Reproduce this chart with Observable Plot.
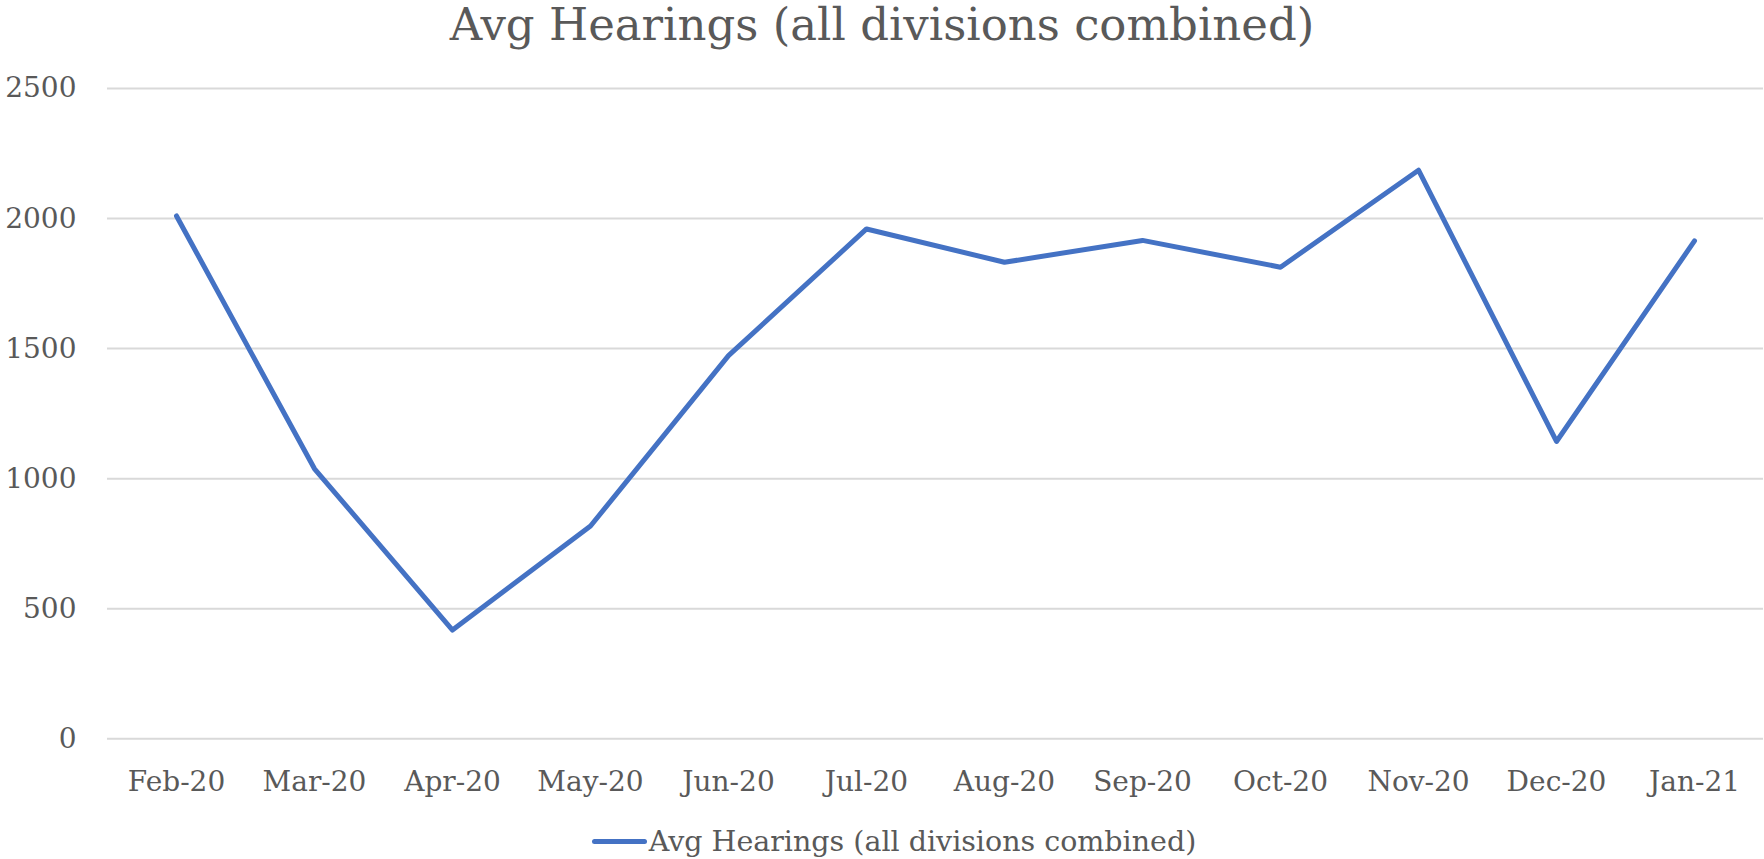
<!DOCTYPE html>
<html>
<head>
<meta charset="utf-8">
<script src="https://cdn.jsdelivr.net/npm/d3@7"></script>
<script src="https://cdn.jsdelivr.net/npm/@observablehq/plot@0.6"></script>
<style>
  html, body { margin: 0; padding: 0; background: #fff; }
  body { width: 1764px; font-family: "DejaVu Serif", serif; color: #595959; }
  #title { height: 50px; line-height: 50px; font-size: 45px; text-align: center; white-space: nowrap; }
  #legend { height: 49px; box-sizing: border-box; padding-top: 18px; padding-left: 24px; text-align: center; font-size: 28.5px; line-height: 1; white-space: nowrap; }
  #legend .sw { display: inline-block; width: 55px; height: 5px; border-radius: 3px; background: #4472C4; vertical-align: middle; margin-right: 2px; position: relative; top: -2px; }
</style>
</head>
<body>
<div id="title">Avg Hearings (all divisions combined)</div>
<div id="chart"></div>
<div id="legend"><span class="sw"></span>Avg Hearings (all divisions combined)</div>
<script>
const months = ["Feb-20", "Mar-20", "Apr-20", "May-20", "Jun-20", "Jul-20", "Aug-20", "Sep-20", "Oct-20", "Nov-20", "Dec-20", "Jan-21"];
const hearings = [2010, 1038, 418, 818, 1473, 1960, 1832, 1916, 1813, 2186, 1143, 1914];
const yTicks = [0, 500, 1000, 1500, 2000, 2500];

const data = months.map((m, i) => ({month: m, value: hearings[i]}));

const chart = Plot.plot({
  width: 1764,
  height: 760,
  marginTop: 38,
  marginBottom: 71.7,
  marginLeft: 107,
  marginRight: 1,
  style: {fontFamily: "DejaVu Serif, serif", color: "#595959", background: "#fff"},
  x: {type: "point", domain: months, padding: 0.5, label: null},
  y: {domain: [0, 2500], label: null},
  marks: [
    Plot.ruleY(yTicks, {stroke: "#d9d9d9", strokeWidth: 2}),
    Plot.axisY(yTicks, {tickSize: 0, tickPadding: 31, fontSize: 28, fill: "#595959", label: null, tickFormat: d => String(d)}),
    Plot.axisX({tickSize: 0, tickPadding: 32, fontSize: 28, fill: "#595959", label: null}),
    Plot.line(data, {x: "month", y: "value", stroke: "#4472C4", strokeWidth: 5, strokeLinejoin: "round", strokeLinecap: "round"})
  ]
});
document.getElementById("chart").appendChild(chart);
</script>
</body>
</html>
